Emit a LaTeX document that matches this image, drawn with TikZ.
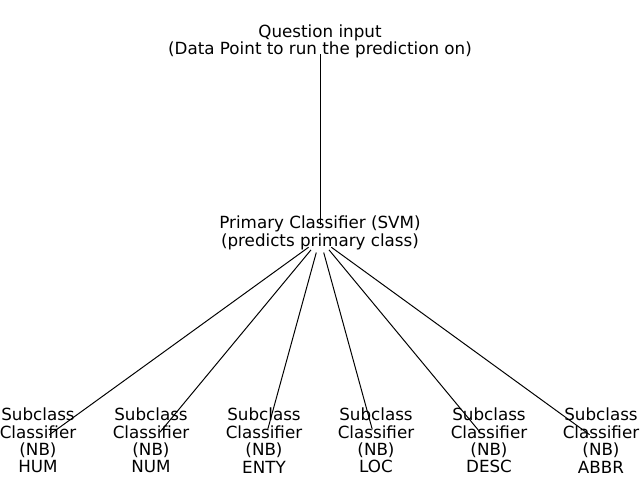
\documentclass[tikz,border=0pt]{standalone}
\usepackage{fontspec}
\setmainfont{DejaVu Sans}

\begin{document}
\begin{tikzpicture}[
            x = 0.025cm, y = -0.025cm, % one unit is one pixel of the picture
            shorten > = 10pt, % keep edges off the labels
            shorten < = 10pt,
            line width = 0.7pt % line style
        ]

        \tikzstyle{every node}=[
            align = center,
            inner sep = 0pt,
            font = \fontsize{11.9}{12.4}\selectfont
        ]

        \useasboundingbox (0,0) rectangle (640,480);

        % tree points
        \coordinate (q) at (320,40);
        \coordinate (p) at (320,239);
        \coordinate (hum) at (38,443);
        \coordinate (num) at (151,443);
        \coordinate (enty) at (264,443);
        \coordinate (loc) at (376,443);
        \coordinate (desc) at (489,443);
        \coordinate (abbr) at (601,443);

        % labels
        \node (qtext) at (320,41.5) {Question input\\(Data Point to run the prediction on)};
        \node (ptext) at (320,233) {Primary Classifier (SVM)\\(predicts primary class)};
        \node (humtext) at (38,440.5) {Subclass\\Classifier\\(NB)\\HUM};
        \node (numtext) at (151,440.5) {Subclass\\Classifier\\(NB)\\NUM};
        \node (entytext) at (264,440.5) {Subclass\\Classifier\\(NB)\\ENTY};
        \node (loctext) at (376,440.5) {Subclass\\Classifier\\(NB)\\LOC};
        \node (desctext) at (489,440.5) {Subclass\\Classifier\\(NB)\\DESC};
        \node (abbrtext) at (601,440.5) {Subclass\\Classifier\\(NB)\\ABBR};

        \path (q) edge (p);
        \path (p) edge (hum);
        \path (p) edge (num);
        \path (p) edge (enty);
        \path (p) edge (loc);
        \path (p) edge (desc);
        \path (p) edge (abbr);

  \end{tikzpicture}
\end{document}
